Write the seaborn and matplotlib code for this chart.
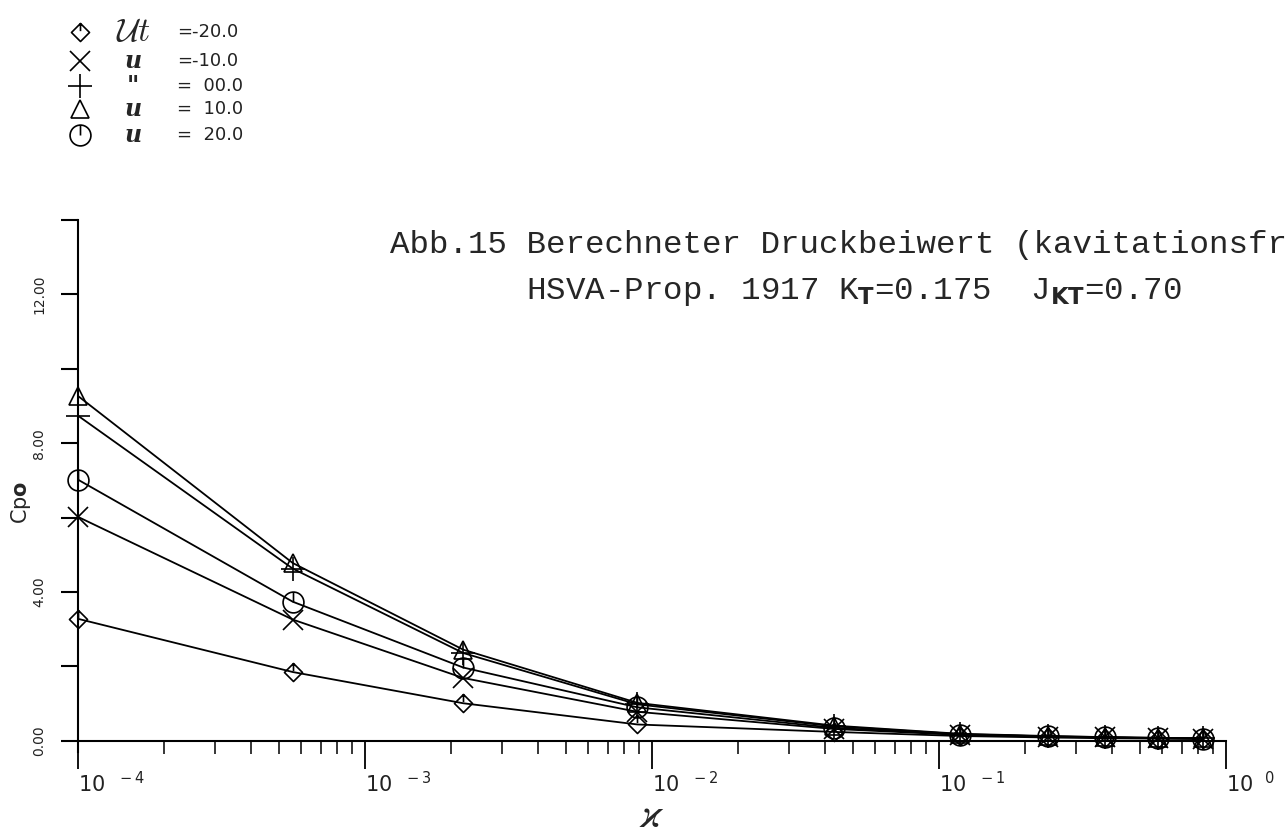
import matplotlib
matplotlib.use("Agg")
import matplotlib.pyplot as plt
import seaborn as sns
import numpy as np
from matplotlib.path import Path

# ---- data ----
x_vals = [1e-4, 5.6e-4, 2.2e-3, 8.9e-3, 0.043, 0.118, 0.24, 0.38, 0.58, 0.83]
cp_m20 = [3.28, 1.85, 1.01, 0.44, 0.24, 0.13, 0.09, 0.07, 0.06, 0.05]
cp_m10 = [6.02, 3.26, 1.69, 0.78, 0.32, 0.16, 0.11, 0.09, 0.07, 0.06]
cp_00 = [8.74, 4.63, 2.36, 0.98, 0.39, 0.18, 0.12, 0.10, 0.08, 0.07]
cp_10 = [9.27, 4.78, 2.45, 1.02, 0.41, 0.19, 0.13, 0.10, 0.08, 0.07]
cp_20 = [7.02, 3.74, 1.97, 0.90, 0.35, 0.17, 0.12, 0.09, 0.07, 0.06]
series_values = ["-20.0", "-10.0", "00.0", "10.0", "20.0"]
y_ticks = [0, 2, 4, 6, 8, 10, 12, 14]
y_ticklabels = ["0.00", "", "4.00", "", "8.00", "", "12.00", ""]
x_ticks = [1e-4, 1e-3, 1e-2, 1e-1, 1e0]
x_exponents = ["-4", "-3", "-2", "-1", "0"]

sns.set_theme(style="white")
plt.rcParams["font.family"] = ["DejaVu Sans"]

W, H = 1287, 836
fig = plt.figure(figsize=(W / 100, H / 100), dpi=100)
ax = fig.add_axes([78 / W, 84 / H, 1148 / W, 532 / H])

# custom marker paths
circ_tick = Path.make_compound_path(Path.unit_circle(), Path([[0, 1], [0, 0]]))
diam_tick = Path.make_compound_path(
    Path([[0, 1], [1, 0], [0, -1], [-1, 0], [0, 1]], [1, 2, 2, 2, 79]),
    Path([[0, 1], [0, 0.15]]))

series = [cp_m20, cp_m10, cp_00, cp_10, cp_20]
markers = [diam_tick, "x", "+", "^", circ_tick]
msizes = [13, 15, 17, 13, 15]

for vals, m, ms in zip(series, markers, msizes):
    sns.lineplot(x=x_vals, y=vals, ax=ax, color="black", lw=1.3, marker=m,
                 markersize=ms, markerfacecolor="none", markeredgecolor="black",
                 markeredgewidth=1.2, legend=False, clip_on=False)

ax.set_xscale("log")
ax.set_xlim(1e-4, 1e0)
ax.set_ylim(-0.3, 14.0)
for s in ["top", "right"]:
    ax.spines[s].set_visible(False)
ax.spines["bottom"].set_position(("data", 0))
for s in ["left", "bottom"]:
    ax.spines[s].set_linewidth(1.5)
    ax.spines[s].set_color("black")

ax.set_yticks(y_ticks)
ax.set_yticklabels(y_ticklabels, rotation=90, va="center", fontsize=10, color="#222222")
ax.tick_params(axis="y", direction="out", length=12, width=1.5, color="black", pad=11, left=True)

ax.set_xticks(x_ticks)
ax.set_xticklabels([r"$\mathregular{10}^{\;\;\;%s}$" % e for e in x_exponents],
                   ha="left", fontsize=15, color="#222222")
ax.xaxis.set_minor_locator(matplotlib.ticker.LogLocator(base=10, subs=np.arange(2, 10)))
ax.xaxis.set_minor_formatter(matplotlib.ticker.NullFormatter())
ax.tick_params(axis="x", which="major", direction="out", length=20, width=1.3, color="black", pad=2, bottom=True)
ax.tick_params(axis="x", which="minor", direction="out", length=9, width=1.1, color="black", bottom=True)
ax.grid(False)

ax.set_ylabel(r"Cp$\mathbf{o}$", fontsize=15, va="center")
ax.yaxis.set_label_coords((21 - 78) / 1148, 0.47)
ax.set_xlabel(r"$\varkappa$", fontsize=30, math_fontfamily="cm", va="center")
ax.xaxis.set_label_coords(0.5, -(815 - 752) / 532)

# title (typewriter)
fig.text(390 / W, 1 - 245 / H, "Abb.15 Berechneter Druckbeiwert (kavitationsfrei)",
         family="Liberation Mono", fontsize=23.4, va="center", ha="left")
fig.text(526 / W, 1 - 292 / H,
         r"HSVA-Prop. 1917 K$_{\mathbf{T}}$=0.175  J$_{\mathbf{KT}}$=0.70",
         family="Liberation Mono", fontsize=23.4, va="center", ha="left",
         math_fontfamily="dejavusans")

# legend block (top-left)
row_y = [32, 61, 86, 109, 135]
sym = [r"$\mathcal{U}t$", "u", '"', "u", "u"]
for i, (yy, m, ms, val, s) in enumerate(zip(row_y, markers, msizes, series_values, sym)):
    fy = 1 - yy / H
    ax.plot([80 / W], [fy], transform=fig.transFigure, clip_on=False,
            marker=m, markersize=ms, markerfacecolor="none", markeredgecolor="black",
            markeredgewidth=1.2, color="black", ls="none")
    if i == 0:
        fig.text(133 / W, fy, s, fontsize=24, ha="center", va="center",
                 math_fontfamily="cm", fontweight="bold")
    else:
        fig.text(133 / W, fy, s, fontsize=17, ha="center", va="center",
                 fontstyle="italic", fontweight="bold", family="DejaVu Serif")
    txt = "=" + val if val.startswith("-") else "=  " + val
    fig.text(177 / W, fy, txt, fontsize=13, ha="left", va="center", color="#222222")

fig.savefig("out.png", dpi=100)
